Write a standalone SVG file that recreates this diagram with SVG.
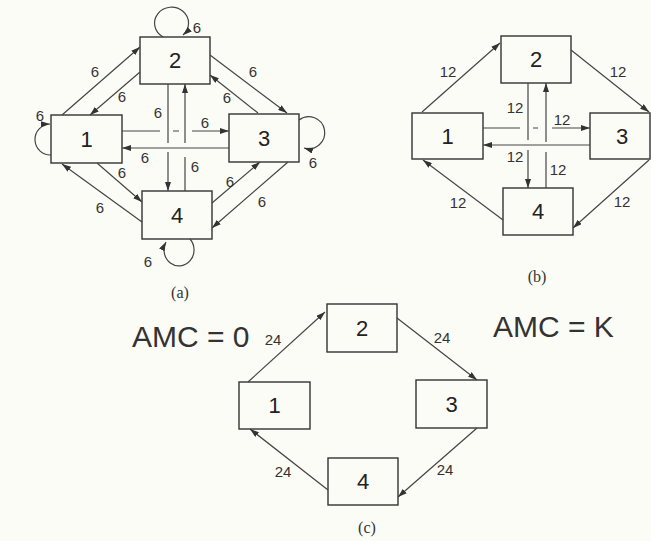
<svg xmlns="http://www.w3.org/2000/svg" width="651" height="541" viewBox="0 0 651 541">
<defs>
<marker id="ah" markerUnits="userSpaceOnUse" markerWidth="9" markerHeight="6" refX="9" refY="3" orient="auto">
<path d="M0,0 L9,3 L0,6 z" fill="#333"/>
</marker>
<style>
.box{fill:none;stroke:#333;stroke-width:1.4}
.num{font-family:"Liberation Sans",Arial,sans-serif;font-size:22px;fill:#222;text-anchor:middle}
.e{fill:none;stroke:#444;stroke-width:1.2}
.a{marker-end:url(#ah)}
.l6{font-family:"Liberation Sans",Arial,sans-serif;font-size:15px;fill:#333;text-anchor:middle}
.l12{font-family:"Liberation Sans",Arial,sans-serif;font-size:15px;fill:#333;text-anchor:middle}
.cap{font-family:"Liberation Serif","Times New Roman",serif;font-size:16px;fill:#333;text-anchor:middle}
.amc{font-family:"Liberation Sans",Arial,sans-serif;font-size:30px;fill:#333}
</style>
</defs>
<rect width="651" height="541" fill="#fcfcf7"/>

<!-- (a) -->
<g id="a-n1"><rect class="box" x="51" y="115" width="71" height="48"/><text class="num" x="86.5" y="147">1</text></g>
<g id="a-n2"><rect class="box" x="140" y="37" width="70" height="47"/><text class="num" x="175" y="68">2</text></g>
<g id="a-n3"><rect class="box" x="229" y="114" width="70" height="48"/><text class="num" x="264" y="146">3</text></g>
<g id="a-n4"><rect class="box" x="142" y="191" width="70" height="48"/><text class="num" x="177" y="223">4</text></g>
<g id="a-edges">
<path class="e a" d="M62,115 L140,47"/>
<path class="e a" d="M140,72 L90,115"/>
<path class="e a" d="M210,55 L287,113"/>
<path class="e a" d="M258,113 L210,75"/>
<path class="e a" d="M97,163 L142,202"/>
<path class="e a" d="M142,222 L62,164"/>
<path class="e a" d="M212,203 L260,162"/>
<path class="e a" d="M288,162 L212,228"/>
<path class="e" d="M168,84 L168,143"/>
<path class="e a" d="M168,152 L168,191"/>
<path class="e" d="M185,191 L185,157"/>
<path class="e a" d="M185,143 L185,84"/>
<path class="e" d="M122,131 L160,131 M173,131 L179,131"/>
<path class="e a" d="M192,131 L229,131"/>
<path class="e a" d="M229,148 L122,148"/>
<path class="e a" d="M163,37 A17,16 0 1 1 183,35"/>
<path class="e a" d="M51,155 A15,15 0 1 1 50,124"/>
<path class="e a" d="M299,120 A16,16 0 1 1 304,148"/>
<path class="e a" d="M190,239 A15,16 0 1 1 166,242"/>
<text class="l6" x="95" y="77">6</text>
<text class="l6" x="122" y="102">6</text>
<text class="l6" x="253" y="77">6</text>
<text class="l6" x="227" y="103">6</text>
<text class="l6" x="122" y="178">6</text>
<text class="l6" x="100" y="213">6</text>
<text class="l6" x="230" y="187">6</text>
<text class="l6" x="262" y="207">6</text>
<text class="l6" x="158" y="118">6</text>
<text class="l6" x="195" y="172">6</text>
<text class="l6" x="205" y="128">6</text>
<text class="l6" x="145" y="163">6</text>
<text class="l6" x="197" y="33">6</text>
<text class="l6" x="40" y="121">6</text>
<text class="l6" x="313" y="168">6</text>
<text class="l6" x="148" y="267">6</text>
</g>
<text class="cap" x="180" y="298">(a)</text>

<!-- (b) -->
<g id="b-n1"><rect class="box" x="412" y="113" width="71" height="46"/><text class="num" x="447.5" y="144">1</text></g>
<g id="b-n2"><rect class="box" x="501" y="36" width="70" height="47"/><text class="num" x="536" y="67">2</text></g>
<g id="b-n3"><rect class="box" x="590" y="113" width="60" height="46"/><text class="num" x="622" y="144">3</text></g>
<g id="b-n4"><rect class="box" x="503" y="188" width="70" height="47"/><text class="num" x="538" y="219">4</text></g>
<g id="b-edges">
<path class="e a" d="M422,112 L500,43"/>
<path class="e a" d="M571,50 L649,112"/>
<path class="e a" d="M649,160 L573,228"/>
<path class="e a" d="M503,220 L423,160"/>
<path class="e" d="M528,83 L528,140"/>
<path class="e a" d="M528,150 L528,188"/>
<path class="e" d="M546,188 L546,152"/>
<path class="e a" d="M546,142 L546,83"/>
<path class="e" d="M483,128 L520,128 M533,128 L538,128"/>
<path class="e a" d="M552,128 L590,128"/>
<path class="e a" d="M590,145 L483,145"/>
<text class="l12" x="448" y="77">12</text>
<text class="l12" x="618" y="77">12</text>
<text class="l12" x="622" y="207">12</text>
<text class="l12" x="458" y="208">12</text>
<text class="l12" x="515" y="113">12</text>
<text class="l12" x="515" y="162">12</text>
<text class="l12" x="558" y="175">12</text>
<text class="l12" x="562" y="125">12</text>
</g>
<text class="cap" x="537" y="282">(b)</text>

<!-- (c) -->
<g id="c-n1"><rect class="box" x="239" y="382" width="71" height="47"/><text class="num" x="274.5" y="413">1</text></g>
<g id="c-n2"><rect class="box" x="327" y="304" width="70" height="48"/><text class="num" x="362" y="336">2</text></g>
<g id="c-n3"><rect class="box" x="416" y="380" width="71" height="48"/><text class="num" x="451.5" y="412">3</text></g>
<g id="c-n4"><rect class="box" x="328" y="458" width="70" height="47"/><text class="num" x="363" y="489">4</text></g>
<g id="c-edges">
<path class="e a" d="M248,382 L325,312"/>
<path class="e a" d="M397,318 L477,380"/>
<path class="e a" d="M477,428 L398,497"/>
<path class="e a" d="M328,490 L250,429"/>
<text class="l12" x="273" y="345">24</text>
<text class="l12" x="442" y="343">24</text>
<text class="l12" x="445" y="475">24</text>
<text class="l12" x="283" y="477">24</text>
</g>
<text class="amc" x="132" y="347">AMC = 0</text>
<text class="amc" x="493" y="337">AMC = K</text>
<text class="cap" x="367" y="533">(c)</text>
</svg>
